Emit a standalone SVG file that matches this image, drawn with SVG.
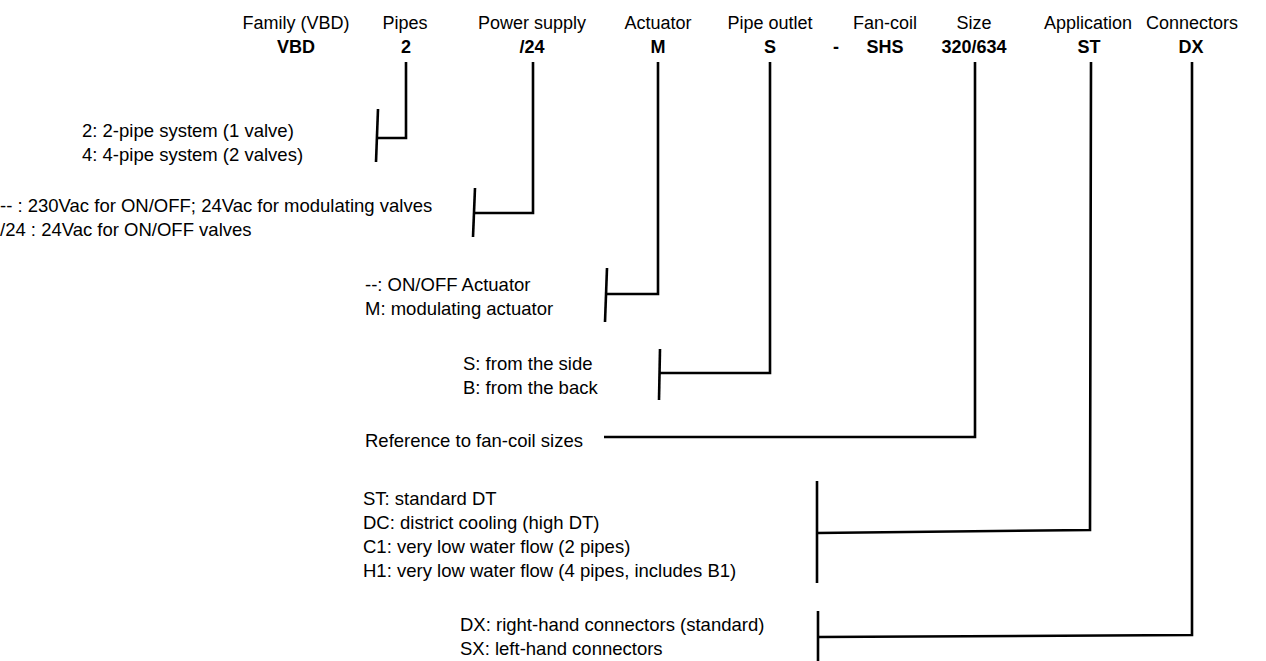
<svg xmlns="http://www.w3.org/2000/svg" width="1266" height="661" viewBox="0 0 1266 661">
<style>
text{font-family:"Liberation Sans",Arial,sans-serif;font-size:18.5px;fill:#000}
.h{text-anchor:middle;font-size:18px}
.b{font-weight:bold;text-anchor:middle;font-size:18px}
.c{fill:none;stroke:#000;stroke-width:2.6;stroke-linejoin:miter}
</style>
<rect width="1266" height="661" fill="#fff"/>
<g id="header">
<text class="h" x="296" y="29">Family (VBD)</text>
<text class="h" x="405" y="29">Pipes</text>
<text class="h" x="532" y="29">Power supply</text>
<text class="h" x="658" y="29">Actuator</text>
<text class="h" x="770" y="29">Pipe outlet</text>
<text class="h" x="885" y="29">Fan-coil</text>
<text class="h" x="974" y="29">Size</text>
<text class="h" x="1088" y="29">Application</text>
<text class="h" x="1192" y="29">Connectors</text>
<text class="b" x="296" y="53">VBD</text>
<text class="b" x="406" y="53">2</text>
<text class="b" x="532" y="53">/24</text>
<text class="b" x="658" y="53">M</text>
<text class="b" x="770" y="53">S</text>
<text class="b" x="836" y="53">-</text>
<text class="b" x="885" y="53">SHS</text>
<text class="b" x="974" y="53">320/634</text>
<text class="b" x="1089" y="53">ST</text>
<text class="b" x="1191" y="53">DX</text>
</g>
<g id="pipes">
<text x="82" y="137">2: 2-pipe system (1 valve)</text>
<text x="82" y="161">4: 4-pipe system (2 valves)</text>
</g>
<g id="power">
<text x="0" y="212">-- : 230Vac for ON/OFF; 24Vac for modulating valves</text>
<text x="0" y="236">/24 : 24Vac for ON/OFF valves</text>
</g>
<g id="actuator">
<text x="365" y="291">--: ON/OFF Actuator</text>
<text x="365" y="315">M: modulating actuator</text>
</g>
<g id="outlet">
<text x="463" y="370">S: from the side</text>
<text x="463" y="394">B: from the back</text>
</g>
<g id="size">
<text x="365" y="447">Reference to fan-coil sizes</text>
</g>
<g id="application">
<text x="363" y="505">ST: standard DT</text>
<text x="363" y="529">DC: district cooling (high DT)</text>
<text x="363" y="553">C1: very low water flow (2 pipes)</text>
<text x="363" y="577">H1: very low water flow (4 pipes, includes B1)</text>
</g>
<g id="connectors-text">
<text x="460" y="631">DX: right-hand connectors (standard)</text>
<text x="460" y="655">SX: left-hand connectors</text>
</g>
<g id="connectors">
<polyline class="c" points="406,62 406,138 377,138"/>
<line class="c" x1="378" y1="109" x2="376" y2="162"/>
<polyline class="c" points="533,62 533,213 474,213"/>
<line class="c" x1="475" y1="188" x2="473" y2="237"/>
<polyline class="c" points="658,62 658,294 606,294"/>
<line class="c" x1="607" y1="268" x2="605" y2="322"/>
<polyline class="c" points="770,62 770,373 659,373"/>
<line class="c" x1="660" y1="349" x2="659" y2="400"/>
<polyline class="c" points="975,62 975,437 604,437"/>
<polyline class="c" points="1091,62 1090,530 817,533"/>
<line class="c" x1="817" y1="481" x2="817" y2="583"/>
<polyline class="c" points="1192,62 1192,635 818,637"/>
<line class="c" x1="818" y1="611" x2="818" y2="661"/>
</g>
</svg>
